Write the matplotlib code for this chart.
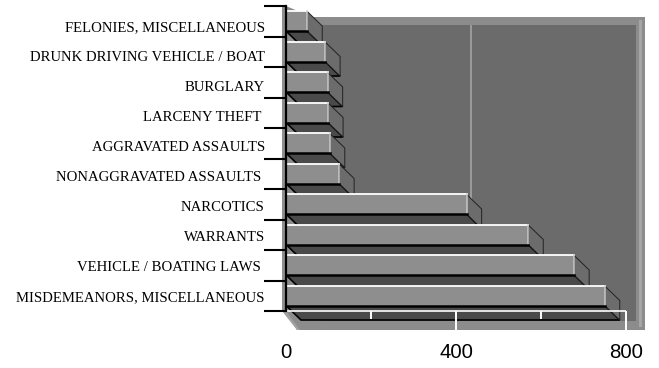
#!/usr/bin/env python3
"""Horizontal pseudo-3D bar chart of arrest categories."""

import matplotlib
matplotlib.use("Agg")
import matplotlib.pyplot as plt
from matplotlib.patches import Polygon, Rectangle

# listed bottom to top
categories = [
    "MISDEMEANORS, MISCELLANEOUS",
    "VEHICLE / BOATING LAWS ",
    "WARRANTS",
    "NARCOTICS",
    "NONAGGRAVATED ASSAULTS ",
    "AGGRAVATED ASSAULTS",
    "LARCENY THEFT ",
    "BURGLARY",
    "DRUNK DRIVING VEHICLE / BOAT",
    "FELONIES, MISCELLANEOUS",
]
values = [750, 678, 570, 425, 125, 103, 99, 98, 92, 50]
major_ticks = [0, 400, 800]
minor_ticks = [200, 600]

WIDTH, HEIGHT = 659, 368
X0, X800 = 286, 626
Y_BOTTOM, Y_TOP = 311, 6
DEPTH_X = 15 / ((X800 - X0) / 800)
DEPTH_Y = 14.5 / ((Y_BOTTOM - Y_TOP) / 10)
BAR_HEIGHT = 0.64

FRONT = "#8e8e8e"
SIDE = "#6c6c6c"
FLOOR = "#4a4a4a"
WALL = "#6b6b6b"
BAND = "#8c8c8c"

fig = plt.figure(figsize=(WIDTH / 100, HEIGHT / 100), dpi=100)

# walls and floor, drawn in pixel coordinates
bg = fig.add_axes([0, 0, 1, 1])
bg.set_xlim(0, WIDTH)
bg.set_ylim(HEIGHT, 0)
bg.axis("off")
bg.add_patch(Polygon([(312, 17), (645, 17), (645, 330), (297, 330), (286, 311), (286, 6)],
                     closed=True, facecolor=BAND, edgecolor="none"))
bg.add_patch(Rectangle((321, 25), 315, 296, facecolor=WALL, edgecolor="none"))
bg.add_patch(Rectangle((639, 20), 3, 307, facecolor="#a6a6a6", edgecolor="none"))
bg.add_patch(Rectangle((282, 6), 4, 305, facecolor="#909090", edgecolor="none"))
bg.add_patch(Polygon([(282, 311), (286, 311), (300, 330), (297, 330)],
                     closed=True, facecolor="#a0a0a0", edgecolor="none"))

ax = fig.add_axes([X0 / WIDTH, 1 - Y_BOTTOM / HEIGHT,
                   (X800 - X0) / WIDTH, (Y_BOTTOM - Y_TOP) / HEIGHT])
ax.patch.set_alpha(0)
ax.set_xlim(0, 800)
ax.set_ylim(-0.5, 9.5)

ax.vlines(400 + DEPTH_X, 3, 9.5 - 19 / 30.5, color="#a4a4a4", linewidth=1.2, zorder=1)

# top bar first so each lower bar covers the shadow of the one above
for i in range(len(values) - 1, -1, -1):
    v = values[i]
    top = i + BAR_HEIGHT / 2
    bot = i - BAR_HEIGHT / 2
    z = 2 + (len(values) - i) * 0.1
    ax.add_patch(Polygon([(0, bot), (v, bot), (v + DEPTH_X, bot - DEPTH_Y), (DEPTH_X, bot - DEPTH_Y)],
                         closed=True, facecolor=FLOOR, edgecolor="black", linewidth=1.2,
                         clip_on=False, zorder=z))
    ax.add_patch(Polygon([(v, top), (v + DEPTH_X, top - DEPTH_Y), (v + DEPTH_X, bot - DEPTH_Y), (v, bot)],
                         closed=True, facecolor=SIDE, edgecolor="#222222", linewidth=0.7,
                         clip_on=False, zorder=z))
    ax.barh(i, v, height=BAR_HEIGHT, color=FRONT, edgecolor="none", zorder=z)
    ax.plot([0, v], [top, top], color="white", linewidth=1.3, zorder=z, clip_on=False)
    ax.plot([v, v], [top, bot], color="#c8c8c8", linewidth=1.1, zorder=z, clip_on=False)
    ax.plot([0, v], [bot, bot], color="black", linewidth=1.8, zorder=z, clip_on=False)

# white frame on the floor
ax.hlines(-0.5, 0, 800, color="white", linewidth=1.2, zorder=4, clip_on=False)
ax.vlines(major_ticks[1:], -0.5 - 19 / 30.5, -0.5, color="white", linewidth=1.4, zorder=4, clip_on=False)
ax.vlines(minor_ticks, -0.5 - 8 / 30.5, -0.5, color="white", linewidth=1.4, zorder=4, clip_on=False)

for side in ("top", "right", "bottom"):
    ax.spines[side].set_visible(False)
ax.spines["left"].set_linewidth(1.6)
ax.spines["left"].set_zorder(6)

ax.set_yticks([i - 0.5 for i in range(len(values) + 1)])
ax.set_yticklabels([])
ax.tick_params(axis="y", length=16, width=1.5, color="black")
ax.set_xticks(major_ticks)
ax.set_xticklabels([str(t) for t in major_ticks], fontsize=14.7,
                   fontfamily="Liberation Sans")
ax.tick_params(axis="x", length=0, pad=23)

for i, name in enumerate(categories):
    ax.text(-50, i * 0.984 - 0.07, name, ha="right", va="center", fontsize=10.6,
            fontfamily="Liberation Serif", clip_on=False)

fig.savefig("out.png", dpi=100)
plt.close(fig)
